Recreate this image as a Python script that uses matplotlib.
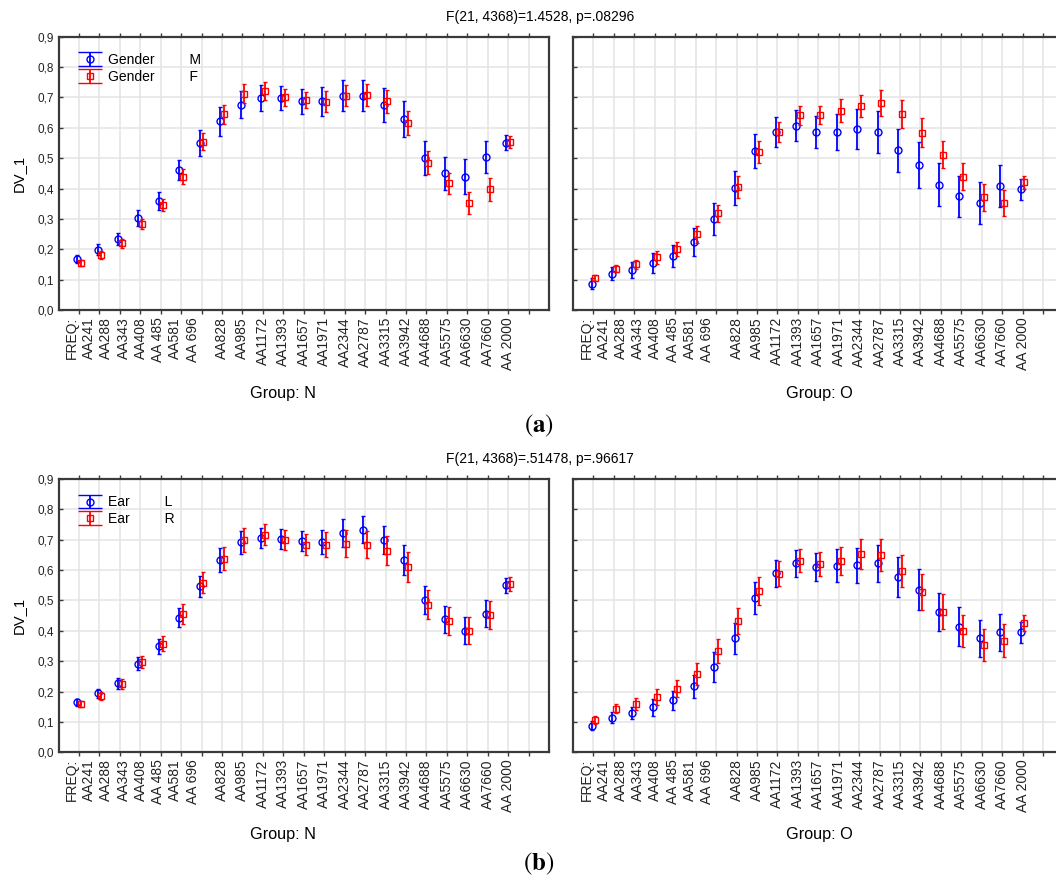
import numpy as np
import matplotlib.pyplot as plt
from matplotlib.container import ErrorbarContainer
from matplotlib.legend_handler import HandlerErrorbar

plt.rcParams['font.family'] = ['Liberation Sans', 'DejaVu Sans']
plt.rcParams['mathtext.fontset'] = 'stix'

# category labels along the x axis (Statistica style)
freq_labels = ['FREQ:', 'AA241', 'AA288', 'AA343', 'AA408', 'AA 485', 'AA581', 'AA 696',
               'AA828', 'AA985', 'AA1172', 'AA1393', 'AA1657', 'AA1971', 'AA2344', 'AA2787',
               'AA3315', 'AA3942', 'AA4688', 'AA5575', 'AA6630', 'AA7660', 'AA 2000']
y_ticks = [0.0, 0.1, 0.2, 0.3, 0.4, 0.5, 0.6, 0.7, 0.8, 0.9]
y_tick_labels = ['0,0', '0,1', '0,2', '0,3', '0,4', '0,5', '0,6', '0,7', '0,8', '0,9']

# (a) Gender -- group N
a_n_m = [0.167, 0.198, 0.235, 0.303, 0.360, 0.460, 0.550, 0.622, 0.676, 0.698, 0.698,
         0.687, 0.687, 0.706, 0.706, 0.675, 0.630, 0.501, 0.450, 0.439, 0.504, 0.551]
a_n_m_err = [0.013, 0.018, 0.020, 0.025, 0.030, 0.033, 0.043, 0.048, 0.045, 0.042, 0.039,
             0.040, 0.047, 0.050, 0.051, 0.056, 0.059, 0.057, 0.055, 0.057, 0.054, 0.025]
a_n_f = [0.154, 0.181, 0.220, 0.284, 0.345, 0.439, 0.554, 0.645, 0.712, 0.721, 0.701,
         0.692, 0.686, 0.706, 0.709, 0.687, 0.615, 0.485, 0.417, 0.353, 0.397, 0.554]
a_n_f_err = [0.010, 0.012, 0.015, 0.016, 0.019, 0.024, 0.028, 0.031, 0.031, 0.030, 0.028,
             0.026, 0.035, 0.034, 0.036, 0.038, 0.040, 0.038, 0.035, 0.037, 0.038, 0.019]

# (a) Gender -- group O
a_o_m = [0.087, 0.119, 0.132, 0.155, 0.178, 0.223, 0.299, 0.402, 0.524, 0.587, 0.607,
         0.587, 0.587, 0.595, 0.587, 0.526, 0.477, 0.413, 0.374, 0.352, 0.409, 0.398]
a_o_m_err = [0.017, 0.021, 0.025, 0.032, 0.037, 0.046, 0.052, 0.055, 0.057, 0.050, 0.050,
             0.053, 0.060, 0.066, 0.069, 0.071, 0.075, 0.072, 0.068, 0.068, 0.070, 0.035]
a_o_f = [0.105, 0.136, 0.150, 0.173, 0.201, 0.249, 0.318, 0.405, 0.519, 0.587, 0.641,
         0.641, 0.656, 0.672, 0.683, 0.644, 0.584, 0.512, 0.439, 0.371, 0.352, 0.420]
a_o_f_err = [0.010, 0.012, 0.015, 0.022, 0.022, 0.029, 0.029, 0.036, 0.036, 0.033, 0.031,
             0.030, 0.038, 0.037, 0.043, 0.046, 0.047, 0.045, 0.044, 0.044, 0.042, 0.022]

# (b) Ear -- group N
b_n_l = [0.164, 0.194, 0.227, 0.292, 0.349, 0.443, 0.547, 0.634, 0.692, 0.706, 0.703,
         0.696, 0.692, 0.721, 0.733, 0.699, 0.634, 0.502, 0.438, 0.400, 0.457, 0.550]
b_n_l_err = [0.010, 0.014, 0.018, 0.022, 0.025, 0.031, 0.035, 0.039, 0.038, 0.033, 0.032,
             0.032, 0.040, 0.046, 0.045, 0.047, 0.050, 0.046, 0.044, 0.044, 0.043, 0.024]
b_n_r = [0.159, 0.186, 0.224, 0.296, 0.357, 0.456, 0.559, 0.638, 0.699, 0.717, 0.699,
         0.684, 0.684, 0.687, 0.684, 0.664, 0.611, 0.486, 0.432, 0.400, 0.452, 0.554]
b_n_r_err = [0.010, 0.014, 0.017, 0.020, 0.025, 0.032, 0.034, 0.037, 0.038, 0.034, 0.034,
             0.034, 0.042, 0.045, 0.044, 0.047, 0.050, 0.048, 0.045, 0.045, 0.045, 0.023]

# (b) Ear -- group O
b_o_l = [0.088, 0.114, 0.130, 0.148, 0.171, 0.217, 0.281, 0.375, 0.508, 0.589, 0.622,
         0.611, 0.615, 0.616, 0.622, 0.577, 0.536, 0.463, 0.414, 0.375, 0.395, 0.395]
b_o_l_err = [0.014, 0.018, 0.020, 0.027, 0.032, 0.039, 0.048, 0.051, 0.054, 0.044, 0.044,
             0.046, 0.055, 0.057, 0.060, 0.065, 0.067, 0.063, 0.063, 0.061, 0.060, 0.034]
b_o_r = [0.106, 0.144, 0.159, 0.182, 0.210, 0.258, 0.334, 0.432, 0.531, 0.588, 0.631,
         0.619, 0.631, 0.653, 0.650, 0.596, 0.528, 0.463, 0.400, 0.353, 0.368, 0.426]
b_o_r_err = [0.014, 0.014, 0.019, 0.025, 0.028, 0.036, 0.040, 0.044, 0.047, 0.041, 0.037,
             0.039, 0.046, 0.050, 0.053, 0.053, 0.058, 0.057, 0.052, 0.052, 0.055, 0.025]

W, H = 1056, 883
BLUE, RED = '#0000ff', '#ff0000'
SPINE = '#3a3a3a'


def px_rect(left, top, right, bottom):
    # axes rectangle from pixel coordinates of the reference
    return [left / W, 1 - bottom / H, (right - left) / W, (bottom - top) / H]


def draw_panel(ax, s1, e1, s2, e2, show_y):
    x = np.arange(len(s1))
    ax.errorbar(x - 0.09, s1, yerr=e1, fmt='o', color=BLUE, mfc='none', ms=5, mew=1.0,
                elinewidth=1.3, capsize=1.5, capthick=1.0, zorder=3)
    ax.errorbar(x + 0.09, s2, yerr=e2, fmt='s', color=RED, mfc='none', ms=5, mew=1.0,
                elinewidth=1.3, capsize=1.5, capthick=1.0, zorder=4)
    ax.set_xlim(-1, 23)
    ax.set_ylim(0, 0.9)

    # gridlines / tick marks at every category slot, labels placed like Statistica does
    ax.xaxis.remove_overlapping_locs = False
    ax.set_xticks(np.arange(23))
    ax.set_xticklabels([])
    label_pos = [-0.34 + 0.843 * i for i in range(8)] + list(range(7, 22))
    ax.set_xticks(label_pos, minor=True)
    ax.set_xticklabels(freq_labels, minor=True, fontsize=10, color='#222222')
    ax.tick_params(axis='x', which='major', direction='out', length=3, width=1,
                   color=SPINE, top=True)
    ax.tick_params(axis='x', which='minor', length=0, pad=5, labelrotation=90)
    ax.grid(True, axis='x', which='major', color='#e4e4e4', lw=1.1, zorder=0)

    ax.set_yticks(y_ticks)
    ax.set_yticklabels(y_tick_labels if show_y else [], fontsize=8.5, color='#222222')
    ax.tick_params(axis='y', direction='in', length=3, width=1, color=SPINE)
    ax.grid(True, axis='y', color='#e4e4e4', lw=1.1, zorder=0)
    ax.set_axisbelow(True)
    for sp in ax.spines.values():
        sp.set_color(SPINE)
        sp.set_linewidth(1.6)


def add_legend(ax, name1, name2):
    h1 = ax.errorbar([np.nan], [np.nan], yerr=[0.1], fmt='o', color=BLUE, mfc='none', ms=5,
                     mew=1.0, elinewidth=1.3, capsize=8.6, capthick=1.3)
    h2 = ax.errorbar([np.nan], [np.nan], yerr=[0.1], fmt='s', color=RED, mfc='none', ms=5,
                     mew=1.0, elinewidth=1.3, capsize=8.6, capthick=1.3)
    ax.legend([h1, h2], [name1, name2], loc='upper left', bbox_to_anchor=(0.04, 0.94),
              frameon=False, fontsize=10, handlelength=1.73, handletextpad=0.45,
              labelspacing=0.2, borderpad=0, borderaxespad=0,
              handler_map={ErrorbarContainer: HandlerErrorbar(yerr_size=0.5)})


fig = plt.figure(figsize=(W / 100, H / 100), dpi=100)

ax1 = fig.add_axes(px_rect(58.5, 36.7, 549, 310))
ax2 = fig.add_axes(px_rect(573, 36.7, 1063.5, 310))
ax3 = fig.add_axes(px_rect(58.5, 479, 549, 752.3))
ax4 = fig.add_axes(px_rect(573, 479, 1063.5, 752.3))

draw_panel(ax1, a_n_m, a_n_m_err, a_n_f, a_n_f_err, True)
draw_panel(ax2, a_o_m, a_o_m_err, a_o_f, a_o_f_err, False)
draw_panel(ax3, b_n_l, b_n_l_err, b_n_r, b_n_r_err, True)
draw_panel(ax4, b_o_l, b_o_l_err, b_o_r, b_o_r_err, False)

add_legend(ax1, 'Gender         M', 'Gender         F')
add_legend(ax3, 'Ear         L', 'Ear         R')

for ax in (ax1, ax3):
    ax.set_ylabel('DV_1', fontsize=10.7, labelpad=8)

fig.text(540 / W, 1 - 17.5 / H, 'F(21, 4368)=1.4528, p=.08296', ha='center', va='center', fontsize=10)
fig.text(540 / W, 1 - 459 / H, 'F(21, 4368)=.51478, p=.96617', ha='center', va='center', fontsize=10)

fig.text(283 / W, 1 - 393 / H, 'Group: N', ha='center', va='center', fontsize=11.7)
fig.text(819 / W, 1 - 393 / H, 'Group: O', ha='center', va='center', fontsize=11.7)
fig.text(283 / W, 1 - 835 / H, 'Group: N', ha='center', va='center', fontsize=11.7)
fig.text(819 / W, 1 - 835 / H, 'Group: O', ha='center', va='center', fontsize=11.7)

fig.text(539 / W, 1 - 426 / H, r'$(\mathbf{a})$', ha='center', va='center', fontsize=18)
fig.text(539 / W, 1 - 864 / H, r'$(\mathbf{b})$', ha='center', va='center', fontsize=18)

fig.savefig('out.png', dpi=100)
